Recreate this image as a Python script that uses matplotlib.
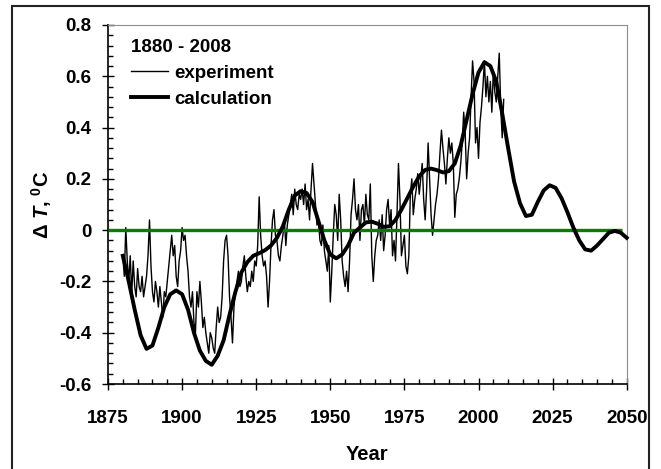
import numpy as np
import matplotlib
matplotlib.use("Agg")
import matplotlib.pyplot as plt
from matplotlib.ticker import MultipleLocator
from matplotlib.patches import Rectangle

# experiment: two readings per year, 1880.0 ... 2008.5
exp_1880s = [-0.10, -0.18, 0.01, -0.12, -0.20, -0.10, -0.25, -0.12, -0.22, -0.26,
             -0.15, -0.22, -0.24, -0.18, -0.26, -0.22, -0.18, -0.10, 0.04, -0.14]
exp_1890s = [-0.24, -0.28, -0.20, -0.24, -0.30, -0.22, -0.28, -0.34, -0.24, -0.26,
             -0.20, -0.14, -0.08, -0.02, -0.10, -0.06, -0.18, -0.22, -0.12, -0.08]
exp_1900s = [0.01, -0.04, -0.02, -0.10, -0.16, -0.26, -0.30, -0.24, -0.36, -0.40,
             -0.24, -0.30, -0.20, -0.28, -0.38, -0.34, -0.40, -0.44, -0.48, -0.40]
exp_1910s = [-0.42, -0.46, -0.48, -0.38, -0.30, -0.36, -0.34, -0.26, -0.12, -0.04,
             -0.02, -0.10, -0.26, -0.34, -0.44, -0.30, -0.24, -0.20, -0.16, -0.22]
exp_1920s = [-0.20, -0.14, -0.10, -0.18, -0.24, -0.20, -0.22, -0.16, -0.20, -0.12,
             -0.14, -0.06, 0.13, -0.02, -0.10, -0.14, -0.12, -0.18, -0.30, -0.20]
exp_1930s = [-0.06, 0.04, 0.08, -0.02, -0.04, -0.10, -0.12, -0.06, -0.02, 0.04,
             -0.06, 0.02, 0.06, 0.10, 0.14, 0.06, 0.16, 0.10, 0.08, 0.14]
exp_1940s = [0.12, 0.16, 0.10, 0.18, 0.08, 0.12, 0.04, 0.16, 0.26, 0.18,
             0.10, 0.02, 0.04, -0.04, -0.06, 0.02, -0.08, -0.12, -0.16, -0.06]
exp_1950s = [-0.28, -0.16, -0.02, 0.10, 0.06, -0.04, 0.14, 0.04, -0.12, -0.18,
             -0.22, -0.16, -0.24, -0.12, 0.06, 0.12, 0.20, 0.08, 0.04, 0.10]
exp_1960s = [-0.04, 0.08, 0.10, 0.02, 0.14, 0.06, 0.04, 0.18, -0.10, -0.20,
             -0.10, -0.04, -0.02, 0.04, -0.04, 0.06, -0.08, -0.02, 0.08, 0.12]
exp_1970s = [0.02, 0.08, -0.10, -0.04, -0.12, 0.06, 0.26, 0.12, -0.10, -0.06,
             -0.02, -0.14, -0.17, -0.10, 0.14, 0.20, 0.06, 0.12, 0.16, 0.22]
exp_1980s = [0.14, 0.20, 0.26, 0.12, 0.04, 0.16, 0.34, 0.20, 0.06, -0.02,
             0.04, 0.10, 0.14, 0.20, 0.30, 0.39, 0.32, 0.26, 0.18, 0.28]
exp_1990s = [0.36, 0.30, 0.34, 0.26, 0.05, 0.14, 0.16, 0.20, 0.26, 0.34,
             0.46, 0.38, 0.20, 0.30, 0.36, 0.52, 0.66, 0.58, 0.34, 0.40]
exp_2000s = [0.28, 0.42, 0.48, 0.56, 0.66, 0.52, 0.60, 0.50, 0.58, 0.46,
             0.62, 0.54, 0.50, 0.60, 0.69, 0.48, 0.36, 0.51]

experiment = (exp_1880s + exp_1890s + exp_1900s + exp_1910s + exp_1920s + exp_1930s
              + exp_1940s + exp_1950s + exp_1960s + exp_1970s + exp_1980s
              + exp_1990s + exp_2000s)
exp_years = 1880 + 0.5 * np.arange(len(experiment))

# calculation: every second year, 1880 ... 2050
calc_years = np.arange(1880, 2051, 2)
calculation = [
    -0.10, -0.20, -0.31, -0.41, -0.463,
    -0.45, -0.38, -0.30, -0.25, -0.235,
    -0.25, -0.31, -0.40, -0.47, -0.51,
    -0.525, -0.49, -0.43, -0.33, -0.24,
    -0.165, -0.125, -0.10, -0.09, -0.078,
    -0.06, -0.03, 0.015, 0.08, 0.135,
    0.152, 0.145, 0.11, 0.035, -0.04,
    -0.095, -0.11, -0.095, -0.06, -0.01,
    0.01, 0.03, 0.033, 0.025, 0.013,
    0.015, 0.04, 0.08, 0.125, 0.17,
    0.21, 0.235, 0.24, 0.234, 0.225,
    0.23, 0.26, 0.33, 0.43, 0.53,
    0.615, 0.655, 0.64, 0.58, 0.455,
    0.32, 0.19, 0.105, 0.055, 0.06,
    0.11, 0.155, 0.175, 0.165, 0.125,
    0.07, 0.01, -0.04, -0.075, -0.08,
    -0.06, -0.035, -0.01, -0.003, -0.01,
    -0.03]

zero_span = (1875, 2048.5)

plt.rcParams.update({
    'font.family': ['Liberation Sans', 'DejaVu Sans'],
    'font.weight': 'bold',
    'mathtext.fontset': 'custom',
    'mathtext.rm': 'Liberation Sans:bold',
    'mathtext.it': 'Liberation Sans:bold:italic',
    'mathtext.bf': 'Liberation Sans:bold',
})

fig = plt.figure(figsize=(6.61, 4.69), dpi=100)
ax = fig.add_axes([108 / 661, 1 - 384 / 469, (626.7 - 108) / 661, (384 - 25) / 469])

ax.plot(exp_years, experiment, color='black', lw=1.0, label='experiment', zorder=2)
ax.hlines(0, zero_span[0], zero_span[1], color='#008000', lw=2.4, zorder=3)
ax.plot(calc_years, calculation, color='black', lw=2.8, label='calculation',
        zorder=4, clip_on=False, solid_joinstyle='round')

ax.set_xlim(1875, 2050)
ax.set_ylim(-0.6, 0.8)
ax.xaxis.set_major_locator(MultipleLocator(25))
ax.xaxis.set_minor_locator(MultipleLocator(5))
ax.yaxis.set_major_locator(MultipleLocator(0.2))
ax.yaxis.set_minor_locator(MultipleLocator(0.04))
ax.yaxis.set_major_formatter(lambda v, p: '0' if abs(v) < 1e-9 else f'{v:.1f}')

ax.tick_params(which='major', direction='inout', length=8, width=1, labelsize=13.5)
ax.tick_params(which='minor', direction='in', length=3.5, width=1)
ax.tick_params(axis='x', which='major', pad=15)
ax.tick_params(axis='y', which='major', pad=8)
ax.tick_params(top=False, right=False, which='both')

for s in ['top', 'right']:
    ax.spines[s].set_color('#8c8c8c')
for s in ['left', 'bottom']:
    ax.spines[s].set_linewidth(1.2)

ax.set_xlabel('Year', fontsize=14.5, fontweight='bold', labelpad=13)
ax.set_ylabel(r'$\Delta$ $\mathit{T}$, $^{0}$C', fontsize=14.5, fontweight='bold', labelpad=4)

leg = ax.legend(loc='upper left', bbox_to_anchor=(0.044, 0.962), frameon=False,
                title='1880 - 2008', alignment='left', fontsize=13.5,
                title_fontproperties={'size': 13.5, 'weight': 'bold'},
                handlelength=2.0, handletextpad=0.3, labelspacing=0.48,
                borderpad=0, borderaxespad=0)

fig.patches.append(Rectangle((12 / 661, -0.01), (649 - 12) / 661, 1 - 6 / 469 + 0.01,
                             transform=fig.transFigure, fill=False,
                             edgecolor='#222222', lw=1.5))

fig.savefig('out.png', dpi=100)
